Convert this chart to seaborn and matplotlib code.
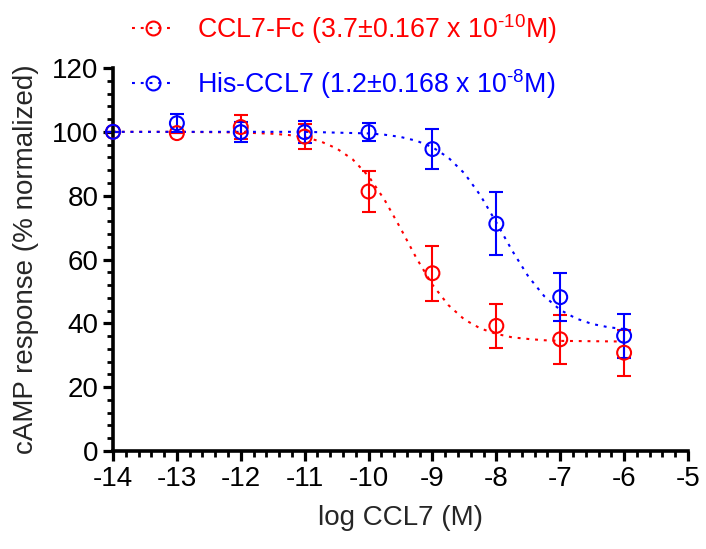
import numpy as np
import pandas as pd
import matplotlib
matplotlib.use("Agg")
import matplotlib.pyplot as plt
import seaborn as sns
from matplotlib.lines import Line2D
from matplotlib.ticker import MultipleLocator

log_conc = [-14, -13, -12, -11, -10, -9, -8, -7, -6]
fc_mean = [100, 99.6, 101.5, 98.5, 81.3, 55.7, 39.2, 35.0, 30.8]
fc_err = [0, 0, 3.8, 3.9, 6.3, 8.6, 6.8, 7.6, 7.2]
his_mean = [100, 102.7, 99.9, 99.9, 99.9, 94.6, 71.2, 48.2, 36.1]
his_err = [0, 2.9, 3.1, 3.5, 2.8, 6.3, 9.8, 7.6, 6.9]

# Fitted curves
fc_curve_x = [-14, -13, -12, -11.5, -11.25, -11, -10.75, -10.5, -10.25, -10, -9.75,
              -9.5, -9.25, -9, -8.75, -8.5, -8.25, -8, -7.75, -7.5, -7.25, -7, -6.5, -6]
fc_curve_y = [100, 100, 99.8, 99.4, 99.0, 98.3, 97.0, 94.8, 91.4, 86.1, 78.7,
              69.8, 60.4, 52.1, 45.7, 41.2, 38.4, 36.7, 35.6, 35.1, 34.7, 34.5, 34.4, 34.3]
his_curve_x = [-14, -11, -10, -9.75, -9.5, -9.25, -9, -8.75, -8.5, -8.25, -8,
               -7.75, -7.5, -7.25, -7, -6.75, -6.5, -6.25, -6]
his_curve_y = [100, 100, 99.5, 99.1, 98.4, 97.2, 95.2, 91.9, 87.0, 80.1, 71.6,
               62.7, 54.7, 48.5, 44.2, 41.5, 39.8, 38.8, 38.2]

fc_label = "CCL7-Fc (3.7\u00b10.167 x 10$^{\u2010 10}$M)"
his_label = "His-CCL7 (1.2\u00b10.168 x 10$^{\u2010 8}$M)"

sns.set_theme(style="ticks")
plt.rcParams["font.family"] = ["Liberation Sans", "DejaVu Sans"]
plt.rcParams["mathtext.fontset"] = "custom"
plt.rcParams["mathtext.rm"] = "Liberation Sans"
plt.rcParams["mathtext.default"] = "regular"
plt.rcParams["axes.unicode_minus"] = False

dots = (0, (1.4, 2.8))

fig = plt.figure(figsize=(7.06, 5.49), dpi=100)
ax = fig.add_axes([113 / 706, 1 - 451 / 549, (688 - 113) / 706, (451 - 68) / 549])

series = [
    ("red", fc_curve_x, fc_curve_y, fc_mean, fc_err),
    ("blue", his_curve_x, his_curve_y, his_mean, his_err),
]
for color, cx, cy, mean, err in series:
    sns.lineplot(x=cx, y=cy, ax=ax, color=color, linestyle=dots,
                 linewidth=1.5, clip_on=False)
    ax.errorbar(log_conc, mean, yerr=err, fmt="none", ecolor=color,
                elinewidth=1.5, capsize=5, capthick=1.5, clip_on=False)
    sns.scatterplot(x=log_conc, y=mean, ax=ax, marker="o", s=100,
                    facecolors="none", edgecolor=color, linewidth=1.5,
                    clip_on=False, zorder=4)

ax.set_xlim(-14, -5)
ax.set_ylim(0, 120)
ax.xaxis.set_major_locator(MultipleLocator(1))
ax.xaxis.set_minor_locator(MultipleLocator(0.2))
ax.yaxis.set_major_locator(MultipleLocator(20))
ax.yaxis.set_minor_locator(MultipleLocator(4))
ax.tick_params(which="major", length=7.5, width=2.3, labelsize=20, color="black",
               labelcolor="black", pad=3)
ax.tick_params(which="minor", length=4, width=2.0, color="black")
ax.tick_params(axis="x", which="both", bottom=True)
ax.tick_params(axis="y", which="both", left=True)
for side in ["left", "bottom"]:
    ax.spines[side].set_linewidth(2.6)
    ax.spines[side].set_color("black")
sns.despine(ax=ax)

ax.set_xlabel("log CCL7 (M)", fontsize=20, labelpad=10)
ax.set_ylabel("cAMP response (% normalized)", fontsize=20, labelpad=9)

handles = [
    Line2D([], [], color="red", linestyle=dots, linewidth=1.5, marker="o",
           markersize=10, markerfacecolor="none", markeredgewidth=1.5),
    Line2D([], [], color="blue", linestyle=dots, linewidth=1.5, marker="o",
           markersize=10, markerfacecolor="none", markeredgewidth=1.5),
]
leg = fig.legend(handles, [fc_label, his_label], loc="upper left",
                 bbox_to_anchor=(132 / 706, 1 - 12 / 549), frameon=False,
                 borderpad=0, borderaxespad=0,
                 fontsize=19.3, handlelength=1.55, handletextpad=0.88,
                 labelspacing=0.78)
for txt, color in zip(leg.get_texts(), ["red", "blue"]):
    txt.set_color(color)

fig.savefig("out.png", dpi=100)
